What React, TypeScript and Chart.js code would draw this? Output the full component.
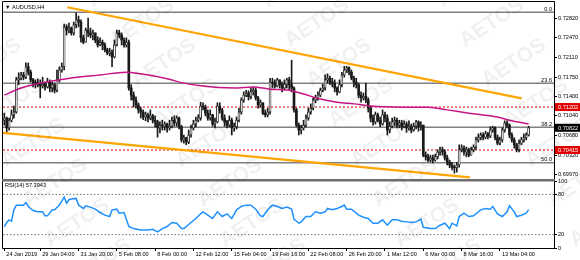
import { useEffect, useRef } from 'react';
import { Chart, registerables } from 'chart.js';

Chart.register(...registerables);

// ---------- data ----------
const chartTitle = '▼ AUDUSD,H4';
const rsiTitle = 'RSI(14) 57.3943';
const watermark = 'AETOS';

// H4 bars, first bar 24 Jan 2019 20:00 (broker has one Sunday 20:00 bar)
const firstBarTime = Date.UTC(2019, 0, 24, 20);
const PRICE_SCALE = 10000; // prices below are written ×10000
const firstOpen = 7096;
const closes = [
  7100, 7082, 7096, 7106, 7111, 7170, 7173, 7179, 7175, 7194,
  7184, 7170, 7166, 7161, 7164, 7159, 7162, 7157, 7166, 7155,
  7161, 7151, 7170, 7188, 7194, 7267, 7261, 7265, 7256, 7271,
  7280, 7276, 7247, 7239, 7261, 7256, 7252, 7256, 7243, 7234,
  7239, 7234, 7225, 7219, 7221, 7212, 7234, 7256, 7252, 7243,
  7234, 7239, 7155, 7142, 7133, 7124, 7115, 7111, 7102, 7106,
  7100, 7104, 7096, 7093, 7082, 7087, 7085, 7089, 7082, 7085,
  7096, 7091, 7100, 7084, 7060, 7064, 7056, 7069, 7082, 7089,
  7096, 7100, 7122, 7120, 7109, 7100, 7106, 7089, 7093, 7122,
  7115, 7100, 7093, 7087, 7096, 7082, 7084, 7096, 7111, 7133,
  7142, 7146, 7139, 7148, 7151, 7137, 7124, 7128, 7109, 7106,
  7111, 7166, 7164, 7159, 7170, 7161, 7155, 7162, 7170, 7161,
  7155, 7115, 7087, 7078, 7082, 7087, 7100, 7111, 7118, 7133,
  7137, 7142, 7151, 7155, 7170, 7173, 7166, 7164, 7155, 7148,
  7161, 7179, 7188, 7192, 7184, 7173, 7166, 7161, 7142, 7137,
  7140, 7133, 7118, 7100, 7093, 7106, 7096, 7089, 7106, 7100,
  7078, 7085, 7093, 7096, 7087, 7091, 7084, 7089, 7082, 7085,
  7078, 7085, 7093, 7084, 7087, 7032, 7029, 7023, 7027, 7023,
  7029, 7038, 7042, 7038, 7027, 7019, 7014, 7010, 7009, 7014,
  7042, 7045, 7038, 7042, 7032, 7042, 7047, 7060, 7064, 7069,
  7065, 7071, 7067, 7078, 7082, 7064, 7054, 7060, 7078, 7091,
  7087, 7069, 7060, 7051, 7042, 7054, 7060, 7064, 7069, 7082,
];
const highs = [
  7109, 7102, 7100, 7115, 7122, 7175, 7183, 7184, 7184, 7201,
  7201, 7188, 7173, 7170, 7172, 7170, 7175, 7166, 7173, 7170,
  7166, 7164, 7188, 7194, 7201, 7272, 7271, 7274, 7267, 7276,
  7293, 7287, 7280, 7252, 7265, 7283, 7265, 7261, 7256, 7249,
  7247, 7243, 7238, 7228, 7228, 7225, 7243, 7261, 7261, 7256,
  7247, 7247, 7243, 7161, 7148, 7139, 7128, 7120, 7115, 7111,
  7109, 7115, 7107, 7104, 7096, 7093, 7096, 7093, 7091, 7096,
  7102, 7104, 7104, 7102, 7087, 7069, 7065, 7078, 7087, 7096,
  7102, 7106, 7129, 7128, 7124, 7115, 7115, 7107, 7100, 7128,
  7128, 7118, 7106, 7096, 7104, 7100, 7091, 7102, 7118, 7137,
  7148, 7151, 7150, 7155, 7157, 7155, 7140, 7133, 7128, 7115,
  7118, 7173, 7173, 7170, 7173, 7170, 7166, 7170, 7173, 7175,
  7206, 7157, 7118, 7091, 7087, 7096, 7106, 7118, 7126, 7137,
  7142, 7148, 7155, 7162, 7179, 7181, 7177, 7173, 7170, 7157,
  7170, 7184, 7195, 7195, 7194, 7188, 7177, 7173, 7164, 7148,
  7146, 7164, 7137, 7122, 7106, 7111, 7109, 7102, 7115, 7111,
  7106, 7093, 7100, 7102, 7100, 7096, 7096, 7095, 7093, 7095,
  7089, 7091, 7096, 7095, 7093, 7087, 7038, 7034, 7032, 7032,
  7034, 7042, 7047, 7047, 7042, 7032, 7023, 7019, 7014, 7019,
  7051, 7051, 7049, 7047, 7045, 7047, 7051, 7065, 7071, 7073,
  7073, 7076, 7074, 7084, 7085, 7084, 7069, 7065, 7082, 7095,
  7095, 7089, 7073, 7064, 7054, 7060, 7065, 7071, 7073, 7085,
];
const lows = [
  7087, 7074, 7078, 7093, 7100, 7109, 7161, 7170, 7170, 7172,
  7179, 7166, 7157, 7155, 7157, 7137, 7155, 7151, 7155, 7148,
  7148, 7146, 7148, 7166, 7184, 7188, 7252, 7256, 7252, 7252,
  7265, 7267, 7239, 7236, 7239, 7249, 7247, 7243, 7238, 7230,
  7232, 7225, 7221, 7216, 7214, 7194, 7210, 7232, 7247, 7234,
  7230, 7230, 7151, 7133, 7120, 7118, 7109, 7100, 7097, 7095,
  7093, 7097, 7091, 7084, 7065, 7073, 7078, 7078, 7074, 7078,
  7082, 7085, 7085, 7080, 7056, 7054, 7051, 7053, 7065, 7078,
  7084, 7093, 7096, 7115, 7104, 7096, 7096, 7085, 7082, 7091,
  7109, 7096, 7085, 7082, 7084, 7069, 7076, 7080, 7093, 7107,
  7129, 7139, 7133, 7135, 7142, 7133, 7118, 7120, 7106, 7102,
  7102, 7107, 7155, 7155, 7157, 7155, 7148, 7151, 7155, 7151,
  7148, 7111, 7084, 7069, 7071, 7078, 7084, 7096, 7107, 7115,
  7128, 7133, 7139, 7148, 7151, 7164, 7161, 7157, 7148, 7142,
  7146, 7157, 7175, 7183, 7179, 7170, 7157, 7155, 7137, 7129,
  7133, 7128, 7111, 7093, 7087, 7089, 7093, 7084, 7087, 7093,
  7069, 7073, 7082, 7085, 7082, 7082, 7078, 7082, 7074, 7078,
  7073, 7076, 7080, 7076, 7078, 7029, 7023, 7020, 7020, 7018,
  7021, 7025, 7032, 7032, 7023, 7014, 7009, 7005, 6999, 7001,
  7010, 7038, 7032, 7029, 7029, 7032, 7038, 7043, 7056, 7060,
  7060, 7062, 7062, 7064, 7074, 7060, 7051, 7051, 7056, 7074,
  7082, 7064, 7056, 7045, 7038, 7038, 7051, 7056, 7060, 7067,
];

// moving average (read at bar indices)
const maBars = [0, 7, 12, 15, 26, 40, 51, 57, 68, 75, 82, 96, 104, 111, 119, 125, 132, 139, 146, 153, 167, 177, 185, 194, 206, 211, 219];
const maValues = [7142, 7155, 7161, 7164, 7172, 7179, 7184, 7181, 7172, 7164, 7159, 7155, 7157, 7153, 7151, 7144, 7135, 7129, 7126, 7122, 7120, 7120, 7115, 7109, 7102, 7096, 7089];

// RSI(14)
const rsiBars = [0, 1, 2, 3, 4, 5, 8, 9, 10, 12, 14, 16, 17, 18, 20, 21, 23, 25, 26, 27, 28, 30, 31, 33, 34, 36, 38, 40, 42, 44, 45, 47, 48, 50, 52, 54, 57, 60, 62, 64, 66, 68, 70, 72, 74, 75, 78, 80, 82, 83, 85, 87, 89, 91, 93, 95, 97, 99, 101, 103, 105, 107, 108, 110, 112, 114, 116, 118, 120, 121, 123, 124, 126, 128, 130, 132, 134, 135, 137, 139, 141, 142, 143, 145, 148, 150, 152, 154, 156, 158, 160, 162, 164, 166, 168, 170, 172, 174, 175, 178, 180, 182, 184, 186, 187, 189, 190, 192, 194, 196, 199, 201, 203, 204, 206, 208, 210, 211, 213, 214, 216, 218, 219];
const rsiValues = [32, 38, 42, 40, 57, 64, 64, 68, 62, 56, 54, 54, 48, 48, 57, 57, 64, 76, 67, 72, 73, 74, 64, 59, 63, 61, 58, 53, 49, 47, 57, 58, 52, 53, 32, 29, 27, 27, 28, 24, 29, 32, 38, 37, 29, 29, 38, 44, 51, 54, 49, 44, 54, 47, 51, 44, 57, 62, 64, 64, 58, 48, 47, 57, 64, 62, 59, 61, 58, 43, 37, 39, 47, 47, 54, 52, 54, 59, 57, 59, 62, 64, 58, 58, 49, 46, 44, 37, 37, 42, 34, 42, 42, 40, 39, 38, 39, 43, 31, 29, 29, 34, 37, 29, 37, 33, 47, 52, 47, 48, 57, 59, 58, 62, 51, 47, 54, 63, 54, 47, 49, 52, 57.39];
const rsiLevels = [80, 20];
const rsiTicks = [100, 80, 20, 0];

// price axis labels
const priceTicks = [0.7282, 0.7247, 0.7211, 0.7175, 0.714, 0.7104, 0.7068, 0.7032, 0.6997];

// fibonacci retracement levels
const fibLabels = ['0.0', '23.6', '38.2', '50.0'];
const fibPrices = [0.7294, 0.7164, 0.7083, 0.7018];

// red alert levels and bid
const alertPrices = [0.71202, 0.70415];
const bidPrice = 0.70822;

// trend lines (bar index, price)
const trendUpperBars = [26.3, 216.1];
const trendUpperPrices = [0.7303, 0.7136];
const trendLowerBars = [-0.55, 194.5];
const trendLowerPrices = [0.7073, 0.69915];

// time axis labels
const xTickLabels = ['24 Jan 2019', '29 Jan 04:00', '31 Jan 20:00', '5 Feb 08:00', '8 Feb 00:00', '12 Feb 12:00', '15 Feb 04:00', '19 Feb 16:00', '22 Feb 08:00', '26 Feb 20:00', '1 Mar 12:00', '6 Mar 00:00', '8 Mar 16:00', '13 Mar 04:00'];

// ---------- helpers ----------
const MONTHS = ['Jan', 'Feb', 'Mar', 'Apr', 'May', 'Jun', 'Jul', 'Aug', 'Sep', 'Oct', 'Nov', 'Dec'];
function buildBarTimes(n: number): Date[] {
  const out: Date[] = [];
  let t = firstBarTime;
  while (out.length < n) {
    const d = new Date(t);
    const wd = d.getUTCDay();
    if ((wd >= 1 && wd <= 5) || (wd === 0 && d.getUTCHours() === 20)) out.push(d);
    t += 4 * 3600 * 1000;
  }
  return out;
}
function fmtBar(d: Date, first: boolean) {
  const base = `${d.getUTCDate()} ${MONTHS[d.getUTCMonth()]}`;
  if (first) return `${base} ${d.getUTCFullYear()}`;
  return `${base} ${String(d.getUTCHours()).padStart(2, '0')}:00`;
}

const FONT_FAMILY = '"Liberation Sans", Arial, sans-serif';
const FS = 5.6;
const X_MIN = -0.55;
const X_MAX = 229.6;

export default function App() {
  const ref = useRef<HTMLCanvasElement>(null);

  useEffect(() => {
    const canvas = ref.current!;
    const n = closes.length;
    const P = (v: number) => v / PRICE_SCALE;
    const times = buildBarTimes(n);
    const barLabels = times.map((d, i) => fmtBar(d, i === 0));
    const tickIdx = barLabels.map((l, i) => (xTickLabels.includes(l) ? i : -1)).filter((i) => i >= 0);
    const opens = closes.map((c, i) => (i === 0 ? firstOpen : closes[i - 1]));
    const bull = closes.map((c, i) => c >= opens[i]);

    const wickData = closes.map((_, i) => ({ x: i, y: [P(lows[i]), P(highs[i])] }));
    const bodyData = closes.map((c, i) => ({ x: i, y: [P(opens[i]), P(c)] }));
    const hline = (v: number) => [{ x: X_MIN, y: v }, { x: X_MAX, y: v }];

    const lineBase = { type: 'line' as const, pointRadius: 0, pointHoverRadius: 0, tension: 0, fill: false };

    const datasets: any[] = [
      { ...lineBase, data: trendUpperBars.map((x, i) => ({ x, y: trendUpperPrices[i] })), borderColor: '#FFA500', borderWidth: 2.2, yAxisID: 'y', order: 0 },
      { ...lineBase, data: trendLowerBars.map((x, i) => ({ x, y: trendLowerPrices[i] })), borderColor: '#FFA500', borderWidth: 2.2, yAxisID: 'y', order: 0 },
      { ...lineBase, data: maBars.map((x, i) => ({ x, y: P(maValues[i]) })), borderColor: '#C71585', borderWidth: 1.5, yAxisID: 'y', order: 1, cubicInterpolationMode: 'monotone', tension: 0.3 },
      {
        type: 'bar', data: bodyData, yAxisID: 'y', order: 2, grouped: false, barThickness: 2,
        backgroundColor: bull.map((b) => (b ? '#ffffff' : '#1a1a1a')), borderColor: '#1a1a1a',
        borderWidth: bull.map((b) => (b ? 0.8 : 0)), borderSkipped: false, minBarLength: 1,
      },
      { type: 'bar', data: wickData, yAxisID: 'y', order: 3, grouped: false, barThickness: 1, backgroundColor: '#1a1a1a', borderWidth: 0 },
      ...fibPrices.map((v) => ({ ...lineBase, data: hline(v), borderColor: '#808080', borderWidth: 1.5, yAxisID: 'y', order: 6 })),
      ...alertPrices.map((v) => ({ ...lineBase, data: hline(v), borderColor: '#E00000', borderWidth: 1, borderDash: [2, 2], yAxisID: 'y', order: 6 })),
      { ...lineBase, data: rsiBars.map((x, i) => ({ x, y: rsiValues[i] })), borderColor: '#1E90FF', borderWidth: 1.5, yAxisID: 'y2', order: 0 },
      ...rsiLevels.map((v) => ({ ...lineBase, data: hline(v), borderColor: '#707070', borderWidth: 1, borderDash: [1.5, 2], yAxisID: 'y2', order: 6 })),
    ];

    const font = { family: FONT_FAMILY, size: FS };

    const deco = {
      id: 'mt4deco',
      afterDraw(chart: any) {
        const { ctx, chartArea } = chart;
        const ys = chart.scales.y;
        const y2 = chart.scales.y2;
        const L = chartArea.left;
        const R = chartArea.right;
        ctx.save();
        // fib labels
        ctx.font = `${FS}px ${FONT_FAMILY}`;
        ctx.fillStyle = '#000';
        ctx.textAlign = 'right';
        ctx.textBaseline = 'alphabetic';
        fibPrices.forEach((v, i) => {
          ctx.fillText(fibLabels[i], R - 2, ys.getPixelForValue(v) - 1.5);
        });
        // titles
        ctx.textAlign = 'left';
        ctx.textBaseline = 'middle';
        ctx.fillText(chartTitle, L + 2, ys.top + 5.5);
        ctx.fillText(rsiTitle, L + 2, y2.top + 6.5);
        // frames
        ctx.strokeStyle = '#000';
        ctx.lineWidth = 1;
        ctx.beginPath();
        ctx.moveTo(L - 0.5, ys.top - 0.5);
        ctx.lineTo(R + 0.5, ys.top - 0.5);
        ctx.moveTo(L - 0.5, ys.top - 0.5);
        ctx.lineTo(L - 0.5, y2.bottom + 0.5);
        ctx.moveTo(R + 0.5, ys.top - 0.5);
        ctx.lineTo(R + 0.5, y2.bottom + 0.5);
        ctx.moveTo(L - 0.5, y2.bottom + 0.5);
        ctx.lineTo(R + 0.5, y2.bottom + 0.5);
        ctx.stroke();
        // panel separator
        ctx.fillStyle = '#6e6e6e';
        ctx.fillRect(L - 1, ys.bottom, R - L + 2, 2.5);
        // price boxes
        const box = (v: number, color: string) => {
          const py = ys.getPixelForValue(v);
          ctx.fillStyle = color;
          ctx.fillRect(R + 1, py - 4, 580 - R - 1, 8);
          ctx.fillStyle = '#fff';
          ctx.textAlign = 'left';
          ctx.textBaseline = 'middle';
          ctx.fillText(v.toFixed(5), R + 4, py + 0.5);
        };
        alertPrices.forEach((v) => box(v, '#E00000'));
        box(bidPrice, '#000000');
        // watermark
        ctx.font = `bold 21px ${FONT_FAMILY}`;
        ctx.fillStyle = 'rgba(0,0,0,0.06)';
        ctx.textAlign = 'center';
        ctx.textBaseline = 'middle';
        for (let k = 0; k < 4; k++) {
          for (let m = -1; m < 7; m++) {
            const cx = -33 + 175 * k + 22 * m;
            const cy = 23 + 40 * m;
            if (cx < -40 || cx > 620) continue;
            ctx.save();
            ctx.translate(cx, cy);
            ctx.rotate(-0.58);
            ctx.fillText(watermark, 0, 0);
            ctx.restore();
          }
        }
        ctx.restore();
      },
    };

    const chart = new Chart(canvas, {
      type: 'bar',
      data: { datasets },
      options: {
        responsive: false,
        animation: false,
        devicePixelRatio: 1,
        events: [],
        layout: { padding: { left: 3, top: 2, right: 0, bottom: 0 } },
        plugins: { legend: { display: false }, tooltip: { enabled: false } },
        scales: {
          x: {
            type: 'linear', min: X_MIN, max: X_MAX, offset: false,
            grid: { display: true, drawOnChartArea: false, drawTicks: true, tickLength: 3, color: '#000', offset: false },
            border: { display: false },
            ticks: {
              autoSkip: false, maxRotation: 0, minRotation: 0, align: 'start', labelOffset: 2, padding: 0,
              font, color: '#000',
              callback: (v: any) => barLabels[Math.round(Number(v))] ?? '',
            },
            afterBuildTicks: (s: any) => { s.ticks = tickIdx.map((v) => ({ value: v })); },
            afterFit: (s: any) => { s.height = 12; s.paddingLeft = 0; s.paddingRight = 0; },
          },
          y: {
            type: 'linear', position: 'right', stack: 'panes', stackWeight: 177,
            min: 0.698837, max: 0.731264, beginAtZero: false,
            grid: { display: true, drawOnChartArea: false, drawTicks: true, tickLength: 3, color: '#000' },
            border: { display: false },
            ticks: { font, color: '#000', padding: 1, autoSkip: false, callback: (v: any) => Number(v).toFixed(5) },
            afterBuildTicks: (s: any) => { s.ticks = priceTicks.map((v) => ({ value: v })); },
            afterFit: (s: any) => { s.width = 26; s.paddingTop = 0; s.paddingBottom = 0; },
          },
          y2: {
            type: 'linear', position: 'right', stack: 'panes', stackWeight: 69,
            min: 0, max: 103, beginAtZero: false,
            grid: { display: true, drawOnChartArea: false, drawTicks: true, tickLength: 3, color: '#000' },
            border: { display: false },
            ticks: { font, color: '#000', padding: 1, autoSkip: false, callback: (v: any) => String(v) },
            afterBuildTicks: (s: any) => { s.ticks = rsiTicks.map((v) => ({ value: v })); },
            afterFit: (s: any) => { s.width = 26; s.paddingTop = 0; s.paddingBottom = 0; },
          },
        },
      } as any,
      plugins: [deco],
    });
    return () => chart.destroy();
  }, []);

  return (
    <div style={{ position: 'fixed', left: 0, top: 0, width: 580, height: 260, background: '#fff' }}>
      <canvas ref={ref} width={580} height={260} style={{ display: 'block', width: 580, height: 260 }} />
    </div>
  );
}
